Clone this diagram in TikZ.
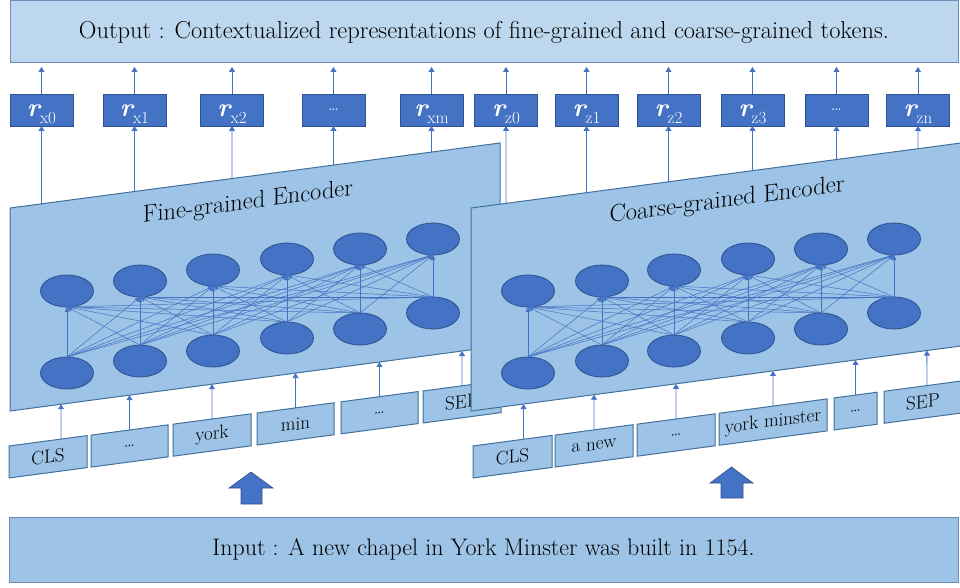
\documentclass[tikz,border=0pt]{standalone}
\usepackage{fontspec}
\usepackage{graphicx}
\usetikzlibrary{arrows.meta,shapes.geometric,calc,intersections}
\definecolor{lightfill}{HTML}{BDD7EE}
\definecolor{midfill}{HTML}{9DC3E6}
\definecolor{darkfill}{HTML}{4472C4}
\definecolor{darkline}{HTML}{2F528F}
\definecolor{encline}{HTML}{41719C}
\definecolor{boxline}{HTML}{6F8BB8}
\begin{document}
\begin{tikzpicture}[x=1pt,y=-1pt,
  every node/.style={inner sep=0pt,outer sep=0pt},
  bigbox/.style={draw=boxline,line width=1pt,rectangle},
  rbox/.style={draw=darkline,fill=darkfill,minimum width=63pt,minimum height=32pt,line width=0.8pt},
  rlabel/.style={text=white},
  encbox/.style={draw=encline,fill=midfill,line width=1pt,yslant=0.1327,transform shape,minimum width=490pt,minimum height=203pt},
  tokbox/.style={draw=encline,fill=midfill,line width=1pt,yslant=0.133,transform shape,minimum height=32pt,font=\fontsize{19}{19}\selectfont},
  enctitle/.style={yslant=0.133,transform shape,font=\fontsize{24}{24}\selectfont},
  neuron/.style={ellipse,draw=darkline,fill=darkfill,minimum width=53pt,minimum height=32pt,line width=0.8pt},
  arr/.style={draw=darkfill,line width=0.8pt,-{Triangle[width=6pt,length=5pt]}},
  narr/.style={draw=darkfill,line width=0.5pt,-{Triangle[width=4.5pt,length=5pt]}},
  blockarrow/.style={draw=darkline,fill=darkfill,line width=0.6pt}
]
\useasboundingbox (0,0) rectangle (960,588);

% output and input
\node[bigbox,fill=lightfill,minimum width=948pt,minimum height=62pt] (out) at (484,32)
  {\resizebox{810pt}{!}{\fontsize{22}{22}\selectfont Output : Contextualized representations of fine-grained and coarse-grained tokens.}};
\node[bigbox,fill=midfill,minimum width=949pt,minimum height=65pt] (in) at (483.5,549.5)
  {\resizebox{542pt}{!}{\fontsize{22}{22}\selectfont Input : A new chapel in York Minster was built in 1154.}};

% block arrows
\draw[blockarrow] (241,504) -- (241,488) -- (229,488) -- (251,472) -- (273,488) -- (262,488) -- (262,504) -- cycle;
\draw[blockarrow] (721,498) -- (721,483) -- (710,483) -- (731.5,467) -- (753,483) -- (743,483) -- (743,498) -- cycle;

% r boxes
\foreach \k/\x/\s in {0/41.5/x0,1/134.5/x1,2/232/x2,4/431.5/xm}{
  \node[rbox] (rx\k) at (\x,110) {};
  \node[rlabel] (lrx\k) at ([yshift=-4.5pt]rx\k.center) {{\fontsize{26}{26}\selectfont\bfseries\itshape r}\raisebox{-7pt}{\fontsize{17}{17}\selectfont \s}};
}
\node[rbox] (rx3) at (333.5,110) {};
\node[rlabel,font=\fontsize{19}{19}\selectfont] (lrx3) at (rx3.center) {…};
\foreach \k/\x/\s in {0/506/z0,1/586.5/z1,2/668.5/z2,3/752.5/z3,5/918/zn}{
  \node[rbox] (rz\k) at (\x,110) {};
  \node[rlabel] (lrz\k) at ([yshift=-4.5pt]rz\k.center) {{\fontsize{26}{26}\selectfont\bfseries\itshape r}\raisebox{-7pt}{\fontsize{17}{17}\selectfont \s}};
}
\node[rbox] (rz4) at (836.5,110) {};
\node[rlabel,font=\fontsize{19}{19}\selectfont] (lrz4) at (rz4.center) {…};

% fine-grained encoder
\node[encbox] (encF) at (255,277) {};
\node[enctitle] (titF) at (248,203) {\resizebox{210pt}{!}{Fine-grained Encoder}};
\foreach \k/\x/\yu/\yl in {1/67/291/373,2/140/281/361,3/213/270/351,4/287/259/338,5/360/249/329,6/433/239/313}{
  \node[neuron] (uF\k) at (\x,\yu) {};
  \node[neuron] (lF\k) at (\x,\yl) {};
}
\foreach \i in {1,...,6}{\foreach \j in {1,...,6}{\draw[narr] (lF\i.north) -- (uF\j.south);}}

% fine tokens
\foreach \k/\x/\y/\w/\t in {1/48/456.8/78/CLS,2/129.5/446/77/…,3/212/435/78/york,4/295.5/423.9/77/min,5/379.5/412.7/77/…,6/462/401.8/78/SEP}{
  \node[tokbox,minimum width=\w pt] (tF\k) at (\x,\y) {\t};
}

% coarse-grained encoder
\node[encbox] (encC) at (716,277) {};
\node[enctitle] (titC) at (727,201) {\resizebox{235pt}{!}{Coarse-grained Encoder}};
\foreach \k/\x/\yu/\yl in {1/528/291/373,2/602/281/361,3/674/270/351,4/748/259/338,5/821/249/329,6/894/239/313}{
  \node[neuron] (uC\k) at (\x,\yu) {};
  \node[neuron] (lC\k) at (\x,\yl) {};
}
\foreach \i in {1,...,6}{\foreach \j in {1,...,6}{\draw[narr] (lC\i.north) -- (uC\j.south);}}

% coarse tokens
\foreach \k/\x/\y/\w/\t in {1/512.5/456.7/79/CLS,2/594/445.9/78/a new,3/676/435/78/…,4/773/422.1/108/york minster,5/855.5/411.1/43/…,6/923/402.1/78/SEP}{
  \node[tokbox,minimum width=\w pt] (tC\k) at (\x,\y) {\t};
}

% edge paths of the encoders
\path[name path=fbot] (encF.south west) -- (encF.south east);
\path[name path=ftop] (encF.north west) -- (encF.north east);
\path[name path=cbot] (encC.south west) -- (encC.south east);
\path[name path=ctop] (encC.north west) -- (encC.north east);

% arrows: tokens -> encoders
\foreach \k/\f in {1/0.667,2/0.5,3/0.5,4/0.5,5/0.5,6/0.5}{
  \coordinate (aF\k) at ($(tF\k.north west)!\f!(tF\k.north east)$);
  \path[name path=vF\k] (aF\k) -- ++(0,-150);
  \draw[arr,name intersections={of=fbot and vF\k,by=eF\k}] (aF\k) -- (eF\k);
}
\foreach \k/\f in {1/0.64,2/0.5,3/0.5,4/0.5,5/0.5,6/0.55}{
  \coordinate (aC\k) at ($(tC\k.north west)!\f!(tC\k.north east)$);
  \path[name path=vC\k] (aC\k) -- ++(0,-150);
  \draw[arr,name intersections={of=cbot and vC\k,by=eC\k}] (aC\k) -- (eC\k);
}

% arrows: encoders -> r boxes -> output
\foreach \k in {0,...,4}{
  \path[name path=wx\k] (rx\k.south) -- ++(0,150);
  \draw[arr,name intersections={of=ftop and wx\k,by=sx\k}] (sx\k) -- (rx\k.south);
  \draw[arr,shorten >=4pt] (rx\k.north) -- (rx\k.north |- out.south);
}
\foreach \k in {0,...,5}{
  \path[name path=wz\k] (rz\k.south) -- ++(0,150);
  \draw[arr,name intersections={of=ctop and wz\k,by=sz\k}] (sz\k) -- (rz\k.south);
  \draw[arr,shorten >=4pt] (rz\k.north) -- (rz\k.north |- out.south);
}
\end{tikzpicture}
\end{document}
